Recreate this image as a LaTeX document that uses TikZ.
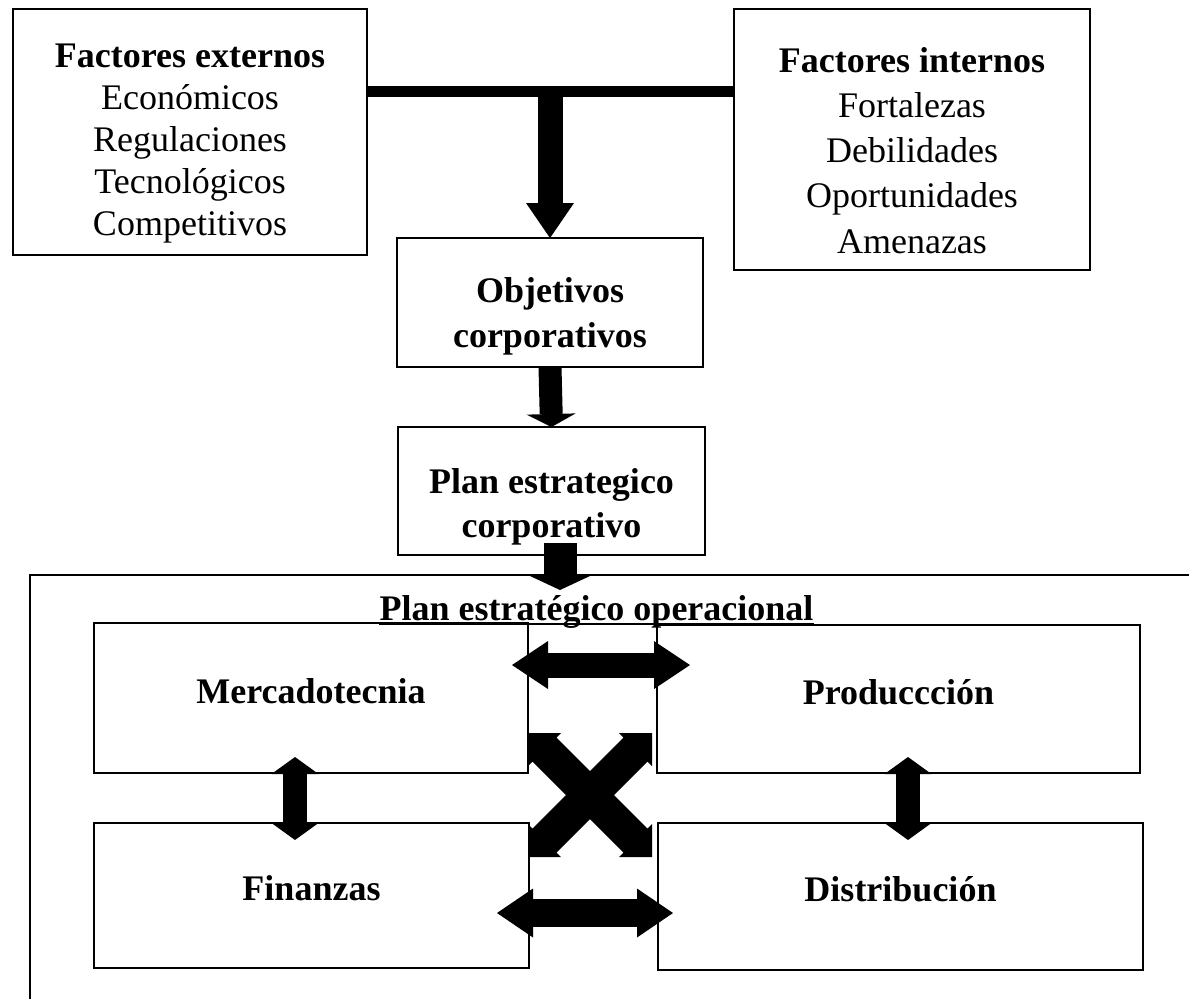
\documentclass[tikz,border=0pt]{standalone}
\usepackage{fontspec}
\setmainfont{Liberation Serif}
\usetikzlibrary{arrows.meta,calc}

\tikzset{
  box/.style={draw, line width=2pt, inner sep=0pt, outer sep=0pt},
  boxt/.style={box, font=\fontsize{36}{40}\selectfont\bfseries,
    text height=20pt, text depth=10pt},
  lbl/.style={anchor=base, inner sep=0pt, font=\fontsize{36}{40}\selectfont},
  hd/.style={lbl, font=\fontsize{36}{40}\selectfont\bfseries},
  % block arrows: thick shaft with a filled triangular head
  arrA/.style={line width=25pt, -{Triangle[width=48pt,length=35pt,line width=0pt]}},
  arrB/.style={line width=23pt, -{Triangle[width=49pt,length=13pt,line width=0pt]}},
  arrC/.style={line width=33pt, -{Triangle[width=60pt,length=14pt,line width=0pt]}},
  dblV/.style={line width=24pt,
    {Triangle[width=47pt,length=17pt,line width=0pt]}-{Triangle[width=47pt,length=17pt,line width=0pt]}},
  dblH1/.style={line width=25pt,
    {Triangle[width=48pt,length=36pt,line width=0pt]}-{Triangle[width=48pt,length=36pt,line width=0pt]}},
  dblH2/.style={line width=28pt,
    {Triangle[width=49pt,length=36pt,line width=0pt]}-{Triangle[width=49pt,length=36pt,line width=0pt]}},
}

\begin{document}
\begin{tikzpicture}[x=1pt,y=-1pt]
\useasboundingbox (0,0) rectangle (1189,999);

% external and internal factors
\node[box, minimum width=354pt, minimum height=246pt] (ext) at (190,132) {};
\node[hd]  (ext1) at (190,67)  {Factores externos};
\node[lbl] (ext2) at (190,109) {Económicos};
\node[lbl] (ext3) at (190,151) {Regulaciones};
\node[lbl] (ext4) at (190,193) {Tecnológicos};
\node[lbl] (ext5) at (190,235) {Competitivos};

\node[box, minimum width=356pt, minimum height=261pt] (int) at (912,139.5) {};
\node[hd]  (int1) at (912,72)  {Factores internos};
\node[lbl] (int2) at (912,117) {Fortalezas};
\node[lbl] (int3) at (912,162) {Debilidades};
\node[lbl] (int4) at (912,207) {Oportunidades};
\node[lbl] (int5) at (912,253) {Amenazas};

% corporate level
\node[box, minimum width=306pt, minimum height=129pt] (obj) at (550,302.5) {};
\node[hd] (obj1) at (550,302) {Objetivos};
\node[hd] (obj2) at (550,347) {corporativos};

\node[box, minimum width=307pt, minimum height=128pt] (plan) at (551.5,491) {};
\node[hd] (plan1) at (551.5,493) {Plan estrategico};
\node[hd] (plan2) at (551.5,537) {corporativo};

% joining bar and downward flow
\coordinate (lvl) at (0,91);
\draw[line width=11pt] (ext.east |- lvl) -- (int.west |- lvl);
\draw[arrA] (obj.north |- lvl) -- (obj.north);
\draw[arrB] (obj.south) -- (plan.north);

% operational frame
\coordinate (fr) at (30,575);
\draw[line width=2pt] (30,999) -- (fr) -- (1189,575);
\coordinate (a3s) at ($(plan.south)+(8.5,-12)$);
\coordinate (a3e) at ($(plan.south)+(8.5,35)$);
\draw[arrC] (a3s) -- (a3e);

\node[hd] (title) at (596.5,620) {Plan estratégico operacional};
\draw[line width=2pt] ([yshift=-4pt]title.base west) -- ([yshift=-4pt]title.base east);

% functional areas
\node[boxt, minimum width=434pt, minimum height=150pt] (merc) at (311,698) {Mercadotecnia};
\node[boxt, minimum width=435pt, minimum height=145pt] (fin)  at (311.5,895.5) {Finanzas};
\node[boxt, minimum width=483pt, minimum height=148pt] (prod) at (898.5,699) {Produccción};
\node[boxt, minimum width=485pt, minimum height=147pt] (dist) at (900.5,896.5) {Distribución};

% two-way links between the areas
\coordinate (h1) at (0,665);
\coordinate (h2) at (0,913);
\coordinate (v1) at (295,0);
\coordinate (v2) at (908,0);
\draw[dblH1] ($(merc.east |- h1)+(-16,0)$) -- ($(prod.west |- h1)+(33,0)$);
\draw[dblH2] ($(fin.east |- h2)+(-32,0)$) -- ($(dist.west |- h2)+(15,0)$);
\draw[dblV] ($(v1 |- merc.south)+(0,-16)$) -- ($(v1 |- fin.north)+(0,17)$);
\draw[dblV] ($(v2 |- prod.south)+(0,-16)$) -- ($(v2 |- dist.north)+(0,17)$);

% crossed double arrows between the diagonal areas
\coordinate (cross) at (590,795);
\begin{scope}[shift={(cross)}]
\fill (-62,-62) -- (-29,-62) -- (-33.5,-57.5) -- (0,-24) -- (33.5,-57.5) -- (29,-62)
  -- (62,-62) -- (62,-29) -- (57.5,-33.5) -- (24,0) -- (57.5,33.5) -- (62,29)
  -- (62,62) -- (29,62) -- (33.5,57.5) -- (0,24) -- (-33.5,57.5) -- (-29,62)
  -- (-62,62) -- (-62,29) -- (-57.5,33.5) -- (-24,0) -- (-57.5,-33.5) -- (-62,-29) -- cycle;
\end{scope}
\end{tikzpicture}
\end{document}
